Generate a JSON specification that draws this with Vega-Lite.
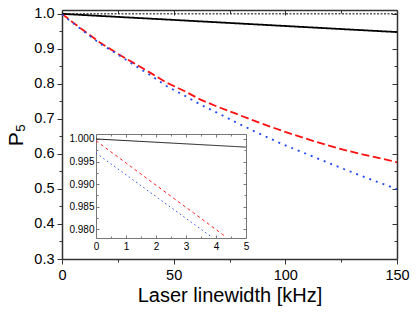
{
  "$schema": "https://vega.github.io/schema/vega-lite/v6.json",
  "width": 335,
  "height": 249,
  "autosize": "none",
  "padding": {"left": 62, "top": 10, "right": 19, "bottom": 55},
  "background": "white",
  "config": {
    "view": {"stroke": null},
    "font": "Liberation Sans",
    "axis": {"grid": false, "domainColor": "#333333", "tickColor": "#333333", "labelColor": "#000000", "labelFont": "Liberation Sans", "titleFont": "Liberation Sans", "labelOverlap": false, "labelFlush": false}
  },
  "datasets": {
    "main": [
      {"x": 0, "p": 1.0, "s": "ref"}, {"x": 150, "p": 1.0, "s": "ref"},
      {"x": 0, "p": 1.0, "s": "black"}, {"x": 25, "p": 0.9913, "s": "black"}, {"x": 50, "p": 0.9827, "s": "black"}, {"x": 75, "p": 0.974, "s": "black"}, {"x": 100, "p": 0.9653, "s": "black"}, {"x": 125, "p": 0.9566, "s": "black"}, {"x": 150, "p": 0.948, "s": "black"},
      {"x": 0, "p": 1.0, "s": "red"}, {"x": 5, "p": 0.975, "s": "red"}, {"x": 10, "p": 0.951, "s": "red"}, {"x": 17, "p": 0.918, "s": "red"}, {"x": 25, "p": 0.886, "s": "red"}, {"x": 32, "p": 0.86, "s": "red"}, {"x": 40, "p": 0.83, "s": "red"}, {"x": 47, "p": 0.803, "s": "red"}, {"x": 55, "p": 0.779, "s": "red"}, {"x": 62, "p": 0.755, "s": "red"}, {"x": 70, "p": 0.734, "s": "red"}, {"x": 77, "p": 0.717, "s": "red"}, {"x": 88, "p": 0.69, "s": "red"}, {"x": 99, "p": 0.665, "s": "red"}, {"x": 111, "p": 0.64, "s": "red"}, {"x": 123, "p": 0.617, "s": "red"}, {"x": 135, "p": 0.598, "s": "red"}, {"x": 147, "p": 0.581, "s": "red"}, {"x": 150, "p": 0.576, "s": "red"},
      {"x": 0, "p": 0.998, "s": "blue"}, {"x": 5, "p": 0.973, "s": "blue"}, {"x": 10, "p": 0.949, "s": "blue"}, {"x": 17, "p": 0.915, "s": "blue"}, {"x": 25, "p": 0.884, "s": "blue"}, {"x": 32, "p": 0.855, "s": "blue"}, {"x": 40, "p": 0.823, "s": "blue"}, {"x": 47, "p": 0.793, "s": "blue"}, {"x": 55, "p": 0.766, "s": "blue"}, {"x": 62, "p": 0.741, "s": "blue"}, {"x": 70, "p": 0.716, "s": "blue"}, {"x": 77, "p": 0.693, "s": "blue"}, {"x": 88, "p": 0.659, "s": "blue"}, {"x": 99, "p": 0.627, "s": "blue"}, {"x": 111, "p": 0.596, "s": "blue"}, {"x": 123, "p": 0.565, "s": "blue"}, {"x": 135, "p": 0.535, "s": "blue"}, {"x": 148.5, "p": 0.503, "s": "blue"}, {"x": 150, "p": 0.499, "s": "blue"}
    ],
    "inset": [
      {"x": 0, "p": 1.0, "s": "black_i"}, {"x": 5, "p": 0.9982, "s": "black_i"},
      {"x": 0, "p": 0.9996, "s": "red_i"}, {"x": 4.3, "p": 0.9785, "s": "red_i"},
      {"x": 0, "p": 0.9969, "s": "blue_i"}, {"x": 3.86, "p": 0.9783, "s": "blue_i"}
    ]
  },
  "layer": [
    {
      "data": {"name": "main"},
      "transform": [{"filter": "datum.s != 'ref'"}],
      "mark": {"type": "line", "strokeWidth": 1.8, "clip": true},
      "encoding": {
        "x": {"field": "x", "type": "quantitative", "scale": {"domain": [0, 150], "nice": false, "zero": false},
          "axis": {"orient": "bottom", "values": [0, 25, 50, 75, 100, 125, 150], "labelExpr": "datum.value % 50 == 0 ? datum.label : ''",
            "tickSize": {"condition": {"test": "datum.value % 50 == 0", "value": 5}, "value": 3},
            "labelFontSize": 14.5, "labelPadding": 4, "domainWidth": 1.5, "tickWidth": 1,
            "title": "Laser linewidth [kHz]", "titleFontSize": 20, "titleFontWeight": "normal", "titlePadding": 4}},
        "y": {"field": "p", "type": "quantitative", "scale": {"domain": [0.3, 1.011], "nice": false, "zero": false},
          "axis": {"orient": "left", "values": [0.3, 0.35, 0.4, 0.45, 0.5, 0.55, 0.6, 0.65, 0.7, 0.75, 0.8, 0.85, 0.9, 0.95, 1.0],
            "labelExpr": "abs(datum.value*10 - round(datum.value*10)) < 0.000001 ? format(datum.value, '.1f') : ''",
            "tickSize": {"condition": {"test": "abs(datum.value*10 - round(datum.value*10)) < 0.000001", "value": 5}, "value": 3},
            "labelFontSize": 14.5, "labelPadding": 3, "domainWidth": 1.5, "tickWidth": 1,
            "title": "P₅", "titleFontSize": 21, "titleFontWeight": "normal", "titlePadding": 7}},
        "color": {"field": "s", "type": "nominal", "legend": null,
          "scale": {"domain": ["black", "red", "blue", "ref", "black_i", "red_i", "blue_i"], "range": ["#000000", "#ff1010", "#2048f0", "#000000", "#222222", "#ff2020", "#3050f0"]}},
        "strokeDash": {"field": "s", "type": "nominal", "legend": null,
          "scale": {"domain": ["black", "red", "blue", "ref", "black_i", "red_i", "blue_i"], "range": [[1, 0], [8, 3.5], [2, 5], [2, 1.5], [1, 0], [3, 3], [1.5, 3]]}}
      }
    },
    {
      "data": {"name": "main"},
      "transform": [{"filter": "datum.s == 'ref'"}],
      "mark": {"type": "line", "strokeWidth": 1, "color": "#000000", "strokeDash": [2, 1.5]},
      "encoding": {
        "x": {"field": "x", "type": "quantitative", "scale": {"domain": [0, 150], "nice": false, "zero": false},
          "axis": {"orient": "top", "values": [0, 25, 50, 75, 100, 125, 150], "labels": false, "title": null,
            "tickSize": {"condition": {"test": "datum.value % 50 == 0", "value": -5}, "value": -3}, "domainWidth": 1.5, "tickWidth": 1}},
        "y": {"field": "p", "type": "quantitative", "scale": {"domain": [0.3, 1.011], "nice": false, "zero": false},
          "axis": {"orient": "right", "values": [0.3, 0.35, 0.4, 0.45, 0.5, 0.55, 0.6, 0.65, 0.7, 0.75, 0.8, 0.85, 0.9, 0.95, 1.0], "labels": false, "title": null,
            "tickSize": {"condition": {"test": "abs(datum.value*10 - round(datum.value*10)) < 0.000001", "value": -5}, "value": -3}, "domainWidth": 1.5, "tickWidth": 1}}
      }
    },
    {
      "data": {"name": "inset"},
      "mark": {"type": "line", "strokeWidth": 1},
      "encoding": {
        "x": {"field": "x", "type": "quantitative", "scale": {"domain": [0, 5], "range": [34, 184], "nice": false, "zero": false},
          "axis": {"orient": "bottom", "offset": -21, "values": [0, 0.5, 1, 1.5, 2, 2.5, 3, 3.5, 4, 4.5, 5], "labelExpr": "datum.value % 1 == 0 ? format(datum.value, '.0f') : ''",
            "tickSize": {"condition": {"test": "datum.value % 1 == 0", "value": -3}, "value": -2},
            "labelFontSize": 10, "labelPadding": 6, "title": null, "domainColor": "#777777", "tickColor": "#777777", "domainWidth": 1, "tickWidth": 1}},
        "y": {"field": "p", "type": "quantitative", "scale": {"domain": [0.9781, 1.0011], "range": [228, 124], "nice": false, "zero": false},
          "axis": {"orient": "left", "offset": -34, "values": [0.98, 0.9825, 0.985, 0.9875, 0.99, 0.9925, 0.995, 0.9975, 1.0],
            "labelExpr": "abs(datum.value*200 - round(datum.value*200)) < 0.000001 ? format(datum.value, '.3f') : ''",
            "tickSize": {"condition": {"test": "abs(datum.value*200 - round(datum.value*200)) < 0.000001", "value": -3}, "value": -2},
            "labelFontSize": 10, "labelPadding": 5, "title": null, "domainColor": "#777777", "tickColor": "#777777", "domainWidth": 1, "tickWidth": 1}},
        "color": {"field": "s", "type": "nominal", "legend": null},
        "strokeDash": {"field": "s", "type": "nominal", "legend": null}
      }
    },
    {
      "data": {"name": "inset"},
      "transform": [{"filter": "datum.s == 'black_i'"}],
      "mark": {"type": "line", "strokeWidth": 1, "opacity": 0},
      "encoding": {
        "x": {"field": "x", "type": "quantitative", "scale": {"domain": [0, 5], "range": [34, 184], "nice": false, "zero": false},
          "axis": {"orient": "top", "offset": -124, "values": [0, 0.5, 1, 1.5, 2, 2.5, 3, 3.5, 4, 4.5, 5], "labels": false, "title": null,
            "tickSize": {"condition": {"test": "datum.value % 1 == 0", "value": -3}, "value": -2}, "domainColor": "#777777", "tickColor": "#777777", "domainWidth": 1, "tickWidth": 1}},
        "y": {"field": "p", "type": "quantitative", "scale": {"domain": [0.9781, 1.0011], "range": [228, 124], "nice": false, "zero": false},
          "axis": {"orient": "right", "offset": -151, "values": [0.98, 0.9825, 0.985, 0.9875, 0.99, 0.9925, 0.995, 0.9975, 1.0], "labels": false, "title": null,
            "tickSize": {"condition": {"test": "abs(datum.value*200 - round(datum.value*200)) < 0.000001", "value": -3}, "value": -2}, "domainColor": "#777777", "tickColor": "#777777", "domainWidth": 1, "tickWidth": 1}}
      }
    }
  ],
  "resolve": {"scale": {"x": "independent", "y": "independent"}, "axis": {"x": "independent", "y": "independent"}}
}
